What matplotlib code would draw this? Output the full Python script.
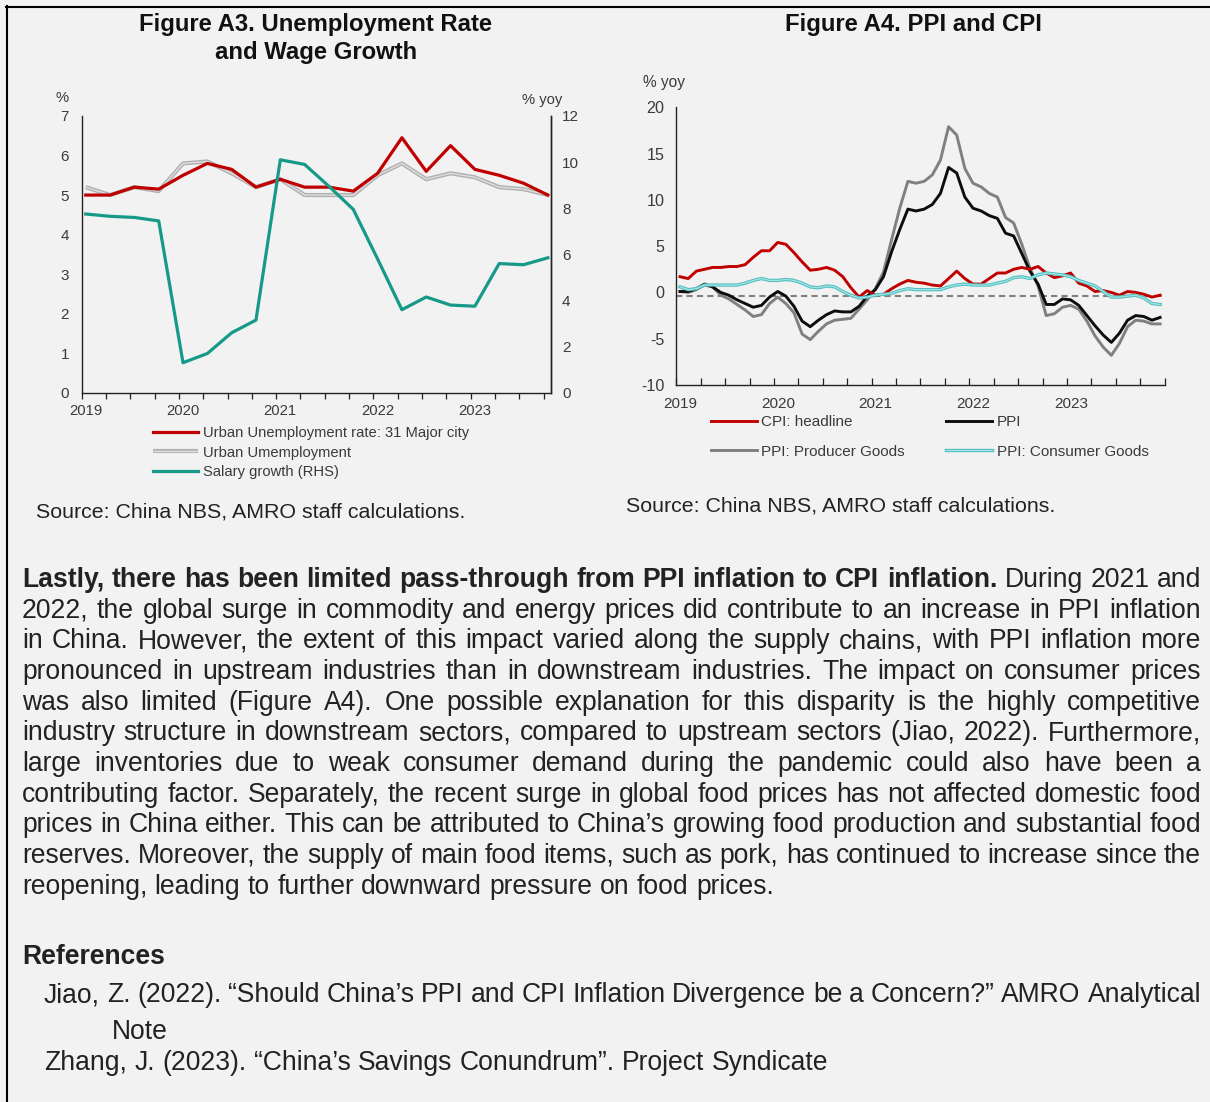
import numpy as np
import matplotlib.pyplot as plt
from matplotlib.lines import Line2D

plt.rcParams['font.family'] = ['Liberation Sans', 'DejaVu Sans']
plt.rcParams['axes.unicode_minus'] = False

# ---- Figure A3: quarterly, 2019Q1 - 2023Q4 ----
quarters = np.arange(20)
urban_31 = [5.0, 5.0, 5.2, 5.15, 5.5, 5.8, 5.65, 5.2, 5.4, 5.2,
            5.2, 5.1, 5.55, 6.45, 5.6, 6.25, 5.65, 5.5, 5.3, 5.0]
urban = [5.2, 5.0, 5.2, 5.1, 5.8, 5.85, 5.55, 5.2, 5.4, 5.0,
         5.0, 5.0, 5.5, 5.8, 5.4, 5.55, 5.45, 5.2, 5.15, 5.0]
salary = [7.75, 7.65, 7.6, 7.45, 1.3, 1.7, 2.6, 3.15, 10.1, 9.9,
          8.95, 7.95, 5.8, 3.6, 4.15, 3.8, 3.75, 5.6, 5.55, 5.85]
a3_years = ['2019', '2020', '2021', '2022', '2023']

# ---- Figure A4: monthly, Jan 2019 - Dec 2023 ----
months = np.arange(60)
cpi = [1.7, 1.5, 2.3, 2.5, 2.7, 2.7, 2.8, 2.8, 3.0, 3.8, 4.5, 4.5,
       5.4, 5.2, 4.3, 3.3, 2.4, 2.5, 2.7, 2.4, 1.7, 0.5, -0.5, 0.2,
       -0.3, -0.2, 0.4, 0.9, 1.3, 1.1, 1.0, 0.8, 0.7, 1.5, 2.3, 1.5,
       0.9, 0.9, 1.5, 2.1, 2.1, 2.5, 2.7, 2.5, 2.8, 2.1, 1.6, 1.8,
       2.1, 1.0, 0.7, 0.1, 0.2, 0.0, -0.3, 0.1, 0.0, -0.2, -0.5, -0.3]
ppi = [0.1, 0.1, 0.4, 0.9, 0.6, 0.0, -0.3, -0.8, -1.2, -1.6, -1.4, -0.5,
       0.1, -0.4, -1.5, -3.1, -3.7, -3.0, -2.4, -2.0, -2.1, -2.1, -1.5, -0.4,
       0.3, 1.7, 4.4, 6.8, 9.0, 8.8, 9.0, 9.5, 10.7, 13.5, 12.9, 10.3,
       9.1, 8.8, 8.3, 8.0, 6.4, 6.1, 4.2, 2.3, 0.9, -1.3, -1.3, -0.7,
       -0.8, -1.4, -2.5, -3.6, -4.6, -5.4, -4.4, -3.0, -2.5, -2.6, -3.0, -2.7]
ppi_producer = [0.1, 0.0, 0.3, 0.8, 0.6, -0.3, -0.7, -1.3, -1.9, -2.6, -2.4, -1.2,
                -0.5, -1.2, -2.2, -4.5, -5.1, -4.2, -3.4, -3.0, -2.9, -2.8, -1.8, -0.8,
                0.4, 2.2, 5.7, 9.1, 12.0, 11.8, 12.0, 12.7, 14.3, 17.9, 17.0, 13.4,
                11.8, 11.4, 10.7, 10.3, 8.1, 7.5, 5.2, 2.6, 0.7, -2.5, -2.3, -1.6,
                -1.4, -1.8, -3.1, -4.7, -5.9, -6.8, -5.5, -3.7, -3.0, -3.1, -3.4, -3.4]
ppi_consumer = [0.6, 0.3, 0.4, 0.8, 0.8, 0.8, 0.8, 0.8, 1.0, 1.3, 1.5, 1.3,
                1.3, 1.4, 1.3, 1.0, 0.6, 0.5, 0.7, 0.6, 0.1, -0.3, -0.6, -0.5,
                -0.3, -0.2, -0.1, 0.2, 0.4, 0.3, 0.3, 0.3, 0.3, 0.6, 0.8, 0.9,
                0.8, 0.8, 0.8, 1.0, 1.2, 1.6, 1.7, 1.5, 1.9, 2.1, 2.0, 1.9,
                1.7, 1.3, 1.0, 0.7, 0.1, -0.5, -0.5, -0.4, -0.3, -0.6, -1.2, -1.3]
a4_years = ['2019', '2020', '2021', '2022', '2023']

W, H = 1210, 1102
BG = '#f2f2f2'
TXT = '#222222'
CH = '#3a3a3a'
BODY = 19.1


def fx(px):
    return px / W


def fy(py):
    return 1 - py / H


fig = plt.figure(figsize=(W / 100, H / 100), dpi=100, facecolor=BG)

# page frame (top and left rule)
fig.add_artist(Line2D([fx(6), 1], [fy(7), fy(7)], lw=1.5, color='black', transform=fig.transFigure))
fig.add_artist(Line2D([fx(7), fx(7)], [fy(6), 0], lw=1.5, color='black', transform=fig.transFigure))

# titles
fig.text(fx(316), fy(30.5), 'Figure A3. Unemployment Rate', ha='center', va='baseline',
         fontsize=17.2, fontweight='bold', color='#111111')
fig.text(fx(316), fy(58.5), 'and Wage Growth', ha='center', va='baseline',
         fontsize=17.2, fontweight='bold', color='#111111')
fig.text(fx(913), fy(30.5), 'Figure A4. PPI and CPI', ha='center', va='baseline',
         fontsize=17.2, fontweight='bold', color='#111111')

# ================= Figure A3 =================
ax3 = fig.add_axes([fx(81.6), fy(392.7), (551 - 81.6) / W, (392.7 - 116) / H])
ax3.set_facecolor(BG)
ax3r = ax3.twinx()

x3 = quarters + 0.17
g_out, = ax3.plot(x3, urban, color='#b0b0b0', lw=3.0, solid_capstyle='butt')
g_in, = ax3.plot(x3, urban, color='#dedede', lw=1.0, solid_capstyle='butt')
r3, = ax3.plot(x3, urban_31, color='#c00000', lw=2.3)
t3, = ax3r.plot(x3, salary, color='#17998a', lw=2.3)

ax3.set_xlim(0, 19.3)
ax3.set_ylim(0, 7)
ax3r.set_ylim(0, 12)
ax3.set_yticks(range(0, 8))
ax3r.set_yticks(range(0, 13, 2))
ax3.set_xticks(x3[::4])
ax3.set_xticklabels(a3_years)
ax3.set_xticks(quarters, minor=True)
ax3.tick_params(axis='x', which='major', length=0, pad=8, labelsize=10.6, labelcolor=CH)
ax3.tick_params(axis='x', which='minor', length=4, width=0.9, direction='out', color='#222222')
ax3.tick_params(axis='y', length=0, pad=9, labelsize=11, labelcolor=CH)
ax3r.tick_params(axis='y', length=0, pad=8, labelsize=11, labelcolor=CH)
for a in (ax3, ax3r):
    a.spines['top'].set_visible(False)
    for s in a.spines.values():
        s.set_color('#222222')
        s.set_linewidth(1.0)
ax3r.spines['left'].set_visible(False)
ax3r.spines['bottom'].set_visible(False)

fig.text(fx(62), fy(98), '%', ha='center', va='center', fontsize=10.6, color=CH)
fig.text(fx(562), fy(100), '% yoy', ha='right', va='center', fontsize=10.6, color=CH)

ax3.legend([r3, (g_out, g_in), t3],
           ['Urban Unemployment rate: 31 Major city', 'Urban Umemployment', 'Salary growth (RHS)'],
           loc='upper left', bbox_to_anchor=(fx(152.6), fy(426)), bbox_transform=fig.transFigure,
           frameon=False, fontsize=10.6, handlelength=3.1, handletextpad=0.3,
           labelspacing=0.38, borderpad=0, borderaxespad=0, labelcolor=CH)

fig.text(fx(36), fy(517), 'Source: China NBS, AMRO staff calculations.', ha='left', va='baseline',
         fontsize=15.4, color=TXT)

# ================= Figure A4 =================
ax4 = fig.add_axes([fx(676.4), fy(385), (1164.6 - 676.4) / W, (385 - 107.3) / H])
ax4.set_facecolor(BG)
x4 = months + 0.45
ax4.axhline(-0.35, color='#808080', lw=1.5, ls=(0, (3, 2)), zorder=1)
p_prod, = ax4.plot(x4, ppi_producer, color='#808080', lw=2.1, zorder=2)
p_ppi, = ax4.plot(x4, ppi, color='#0d0d0d', lw=2.1, zorder=3)
p_cpi, = ax4.plot(x4, cpi, color='#c00000', lw=2.1, zorder=4)
c_out, = ax4.plot(x4, ppi_consumer, color='#55bfc0', lw=2.4, zorder=5)
c_in, = ax4.plot(x4, ppi_consumer, color='#a6e8e8', lw=0.8, zorder=6)

ax4.set_xlim(0, 60)
ax4.set_ylim(-10, 20)
ax4.set_yticks(range(-10, 21, 5))
ax4.set_xticks(np.arange(0, 60, 12) + 0.5)
ax4.set_xticklabels(a4_years)
ax4.set_xticks(np.arange(0, 61, 3), minor=True)
ax4.tick_params(axis='x', which='major', length=0, pad=9, labelsize=11, labelcolor=CH)
ax4.tick_params(axis='x', which='minor', length=5, width=0.9, direction='in', color='#222222')
ax4.tick_params(axis='y', length=0, pad=8.5, labelsize=11.6, labelcolor=CH)
ax4.spines['top'].set_visible(False)
ax4.spines['right'].set_visible(False)
for s in ax4.spines.values():
    s.set_color('#222222')
    s.set_linewidth(1.0)

fig.text(fx(643), fy(83), '% yoy', ha='left', va='center', fontsize=11.2, color=CH)

ax4.legend([p_cpi, p_prod, p_ppi, (c_out, c_in)],
           ['CPI: headline', 'PPI: Producer Goods', 'PPI', 'PPI: Consumer Goods'],
           ncol=2, loc='upper left', bbox_to_anchor=(fx(711), fy(415)), bbox_transform=fig.transFigure,
           frameon=False, fontsize=11, handlelength=3.0, handletextpad=0.3,
           labelspacing=1.02, columnspacing=2.7, borderpad=0, borderaxespad=0, labelcolor=CH)

fig.text(fx(626), fy(511), 'Source: China NBS, AMRO staff calculations.', ha='left', va='baseline',
         fontsize=15.4, color=TXT)

# ================= body text =================
renderer = fig.canvas.get_renderer()


def put_line(segments, y, x0, x1=None, size=BODY):
    # one text per word so the line can be justified between x0 and x1
    words = []
    for txt, bold in segments:
        for w in txt.split():
            words.append((w, bold))
    arts = [fig.text(fx(x0), fy(y), w, fontsize=size, va='baseline', color=TXT,
                     fontweight='bold' if b else 'normal') for w, b in words]
    widths = [a.get_window_extent(renderer).width for a in arts]
    if x1 is not None and len(arts) > 1:
        gap = (x1 - x0 - sum(widths)) / (len(arts) - 1)
    else:
        gap = 0.278 * size * 100 / 72
    x = x0
    for a, wd in zip(arts, widths):
        a.set_x(fx(x))
        x += wd + gap


para = [
    [('Lastly, there has been limited pass-through from PPI inflation to CPI inflation.', True),
     ('During 2021 and', False)],
    [('2022, the global surge in commodity and energy prices did contribute to an increase in PPI inflation', False)],
    [('in China. However, the extent of this impact varied along the supply chains, with PPI inflation more', False)],
    [('pronounced in upstream industries than in downstream industries. The impact on consumer prices', False)],
    [('was also limited (Figure A4). One possible explanation for this disparity is the highly competitive', False)],
    [('industry structure in downstream sectors, compared to upstream sectors (Jiao, 2022). Furthermore,', False)],
    [('large inventories due to weak consumer demand during the pandemic could also have been a', False)],
    [('contributing factor. Separately, the recent surge in global food prices has not affected domestic food', False)],
    [('prices in China either. This can be attributed to China\u2019s growing food production and substantial food', False)],
    [('reserves. Moreover, the supply of main food items, such as pork, has continued to increase since the', False)],
    [('reopening, leading to further downward pressure on food prices.', False)],
]
for i, segs in enumerate(para):
    last = i == len(para) - 1
    put_line(segs, 587 + 30.65 * i, 22, None if last else 1201)

put_line([('References', True)], 964, 22)
put_line([('Jiao, Z. (2022). \u201cShould China\u2019s PPI and CPI Inflation Divergence be a Concern?\u201d AMRO Analytical', False)],
         1002, 44, 1201)
put_line([('Note', False)], 1039, 112)
put_line([('Zhang, J. (2023). \u201cChina\u2019s Savings Conundrum\u201d. Project Syndicate', False)], 1070, 44)

fig.savefig('out.png', dpi=100, facecolor=BG)
